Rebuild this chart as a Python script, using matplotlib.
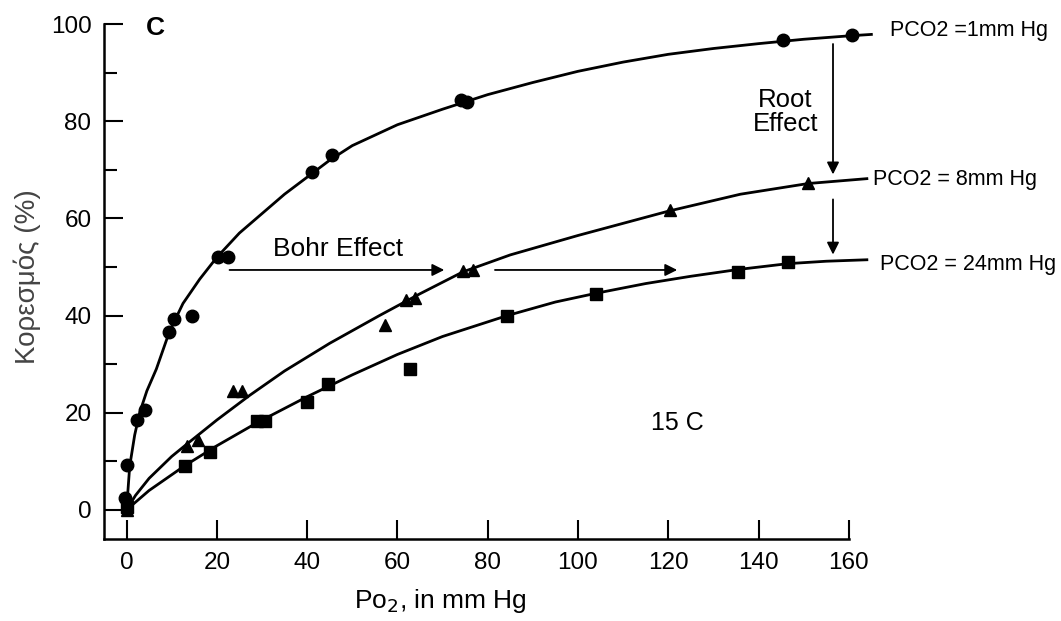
import numpy as np
import matplotlib.pyplot as plt
from matplotlib.ticker import MultipleLocator

plt.rcParams['font.family'] = ['Liberation Sans', 'DejaVu Sans']

#%% data

# fitted curves (PO2, saturation)
curve1_x = [0, 0.7, 1.8, 2.9, 4.5, 6.6, 9.5, 12.5, 16.2, 20, 25, 30, 35, 40, 45, 50,
            60, 70, 80, 90, 100, 110, 120, 130, 140, 150, 160, 165]
curve1_y = [0, 9, 15.4, 20, 24.5, 29, 36.7, 42.5, 47.5, 52, 57, 61, 65, 68.5, 72, 75,
            79.3, 82.5, 85.5, 88, 90.3, 92.2, 93.8, 95, 96, 96.9, 97.6, 97.9]

curve8_x = [0, 2, 5, 10, 13.3, 20, 27.3, 35, 45, 56, 65, 74.5, 85, 100, 110, 120, 136, 151, 164]
curve8_y = [0, 3, 6.5, 11, 13.5, 18.5, 23.6, 28.6, 34.3, 40, 44.5, 49, 52.5, 56.5, 59, 61.5, 65, 67.2, 68.2]

curve24_x = [0, 5, 12.9, 20, 29, 40, 50, 60, 70, 84.3, 95, 104, 115, 125, 135.5, 146.5, 155, 164]
curve24_y = [0, 4, 9.1, 13.2, 18, 23.3, 27.8, 32, 35.7, 40, 42.8, 44.6, 46.6, 48.1, 49.5, 50.7, 51.2, 51.5]

# measured points
circ_x = [-0.4, 0.2, 2.4, 4, 9.5, 10.6, 14.6, 20.2, 22.4, 41, 45.5, 74, 75.5, 145.5, 160.7]
circ_y = [2.5, 9.2, 18.5, 20.5, 36.7, 39.3, 40, 52, 52, 69.5, 73, 84.4, 84, 96.7, 97.7]

tri_x = [0, 13.3, 15.8, 23.5, 25.5, 57.2, 62, 64, 74.5, 76.7, 120.4, 151]
tri_y = [0, 13.1, 14.3, 24.4, 24.4, 38, 43.2, 43.6, 49.2, 49.4, 61.7, 67.4]

sq_x = [0, 12.9, 18.4, 29, 30.6, 39.9, 44.6, 62.7, 84.3, 104, 135.5, 146.5]
sq_y = [0.5, 9, 12, 18.4, 18.4, 22.3, 26, 29.1, 40, 44.5, 49, 51]

curve_labels = ["PCO2 =1mm Hg", "PCO2 = 8mm Hg", "PCO2 = 24mm Hg"]

#%% figure

fig = plt.figure(figsize=(10.61, 6.21), dpi=100)
ax = fig.add_axes([0.098, 0.132, 0.702, 0.829])

lw = 2.0
ax.plot(curve1_x, curve1_y, color="black", lw=lw, clip_on=False)
ax.plot(curve8_x, curve8_y, color="black", lw=lw, clip_on=False)
ax.plot(curve24_x, curve24_y, color="black", lw=lw, clip_on=False)

ax.plot(circ_x, circ_y, "o", color="black", ms=9, clip_on=False)
ax.plot(tri_x, tri_y, "^", color="black", ms=8, clip_on=False)
ax.plot(sq_x, sq_y, "s", color="black", ms=8.5, clip_on=False)

# arrows
arr = dict(arrowstyle="-|>", color="black", lw=1.3, mutation_scale=18)
ax.annotate("", xy=(71, 49.4), xytext=(22.2, 49.4), arrowprops=arr)
ax.annotate("", xy=(122.6, 49.4), xytext=(81, 49.4), arrowprops=arr)
ax.annotate("", xy=(156.5, 68.5), xytext=(156.5, 96.5), arrowprops=arr, annotation_clip=False)
ax.annotate("", xy=(156.5, 52), xytext=(156.5, 64.5), arrowprops=arr, annotation_clip=False)

# text
ax.text(46.8, 53.7, "Bohr Effect", fontsize=19, ha="center", va="center")
ax.text(145.9, 82.0, "Root\nEffect", fontsize=18.5, ha="center", va="center",
        multialignment="center", linespacing=1.0)
ax.text(122, 17.8, "15 C", fontsize=18, ha="center", va="center")
ax.text(6.4, 99.2, "C", fontsize=19, fontweight="bold", ha="center", va="center")

ax.text(169.2, 98.8, curve_labels[0], fontsize=15.5, ha="left", va="center", clip_on=False)
ax.text(165.4, 68.0, curve_labels[1], fontsize=15.5, ha="left", va="center", clip_on=False)
ax.text(167.0, 50.6, curve_labels[2], fontsize=15.5, ha="left", va="center", clip_on=False)

fig.text(27 / 1061, 1 - 277 / 621, "Κορεσμός (%)", rotation=90, fontsize=20,
         color="#444444", ha="center", va="center")
fig.text(440 / 1061, 1 - 601 / 621, "Po$_2$, in mm Hg", fontsize=19,
         ha="center", va="center")

# axes styling
ax.set_xlim(-5, 160)
ax.set_ylim(-6, 100)
ax.spines["top"].set_visible(False)
ax.spines["right"].set_visible(False)
ax.spines["left"].set_linewidth(1.8)
ax.spines["bottom"].set_linewidth(1.8)

ax.set_xticks(np.arange(0, 161, 20))
ax.set_yticks(np.arange(0, 101, 20))
ax.yaxis.set_minor_locator(MultipleLocator(10))
ax.tick_params(axis="both", which="major", direction="in", length=14, width=1.5,
               labelsize=17.5, pad=9)
ax.tick_params(axis="y", which="minor", direction="in", length=9, width=1.5)
ax.tick_params(axis="x", which="minor", length=0)

fig.savefig("out.png", dpi=100)
